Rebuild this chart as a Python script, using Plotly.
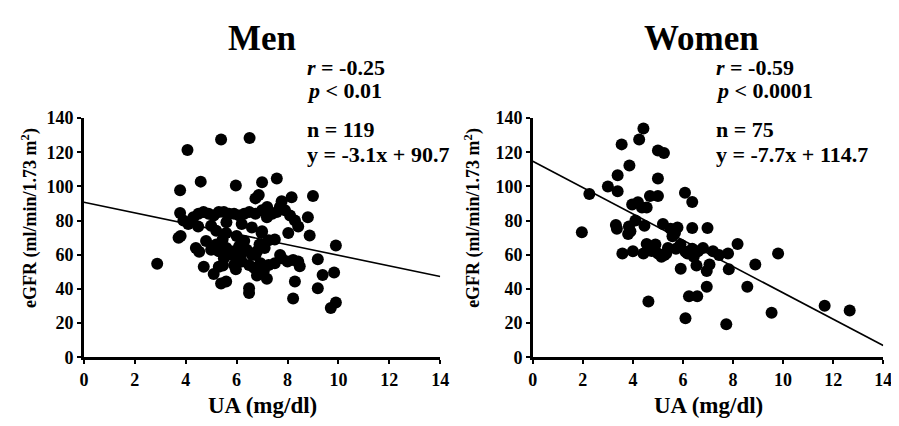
import plotly.graph_objects as go

# ---------------- data ----------------
men_ua = [4.07, 5.39, 6.51, 4.59, 5.97, 7.0, 7.58, 3.78, 6.74, 6.87, 7.77, 8.16, 9.0,
          3.78, 3.91, 4.3, 4.5, 4.7, 4.9, 5.1, 5.3, 5.5, 5.7, 5.9, 6.1, 6.3, 6.5, 6.74, 7.0,
          7.19, 7.4, 7.58, 7.9, 8.1, 8.29, 8.8, 7.7, 7.2,
          4.49, 4.1, 5.0, 5.6, 6.2, 6.6, 5.2, 8.42, 8.03, 7.0, 8.87, 6.98, 5.59, 5.45, 3.72,
          3.8, 7.26, 7.5, 6.0, 6.3, 4.8,
          4.53, 9.9, 5.0, 5.3, 5.6, 5.9, 6.1, 6.4, 6.6, 6.8, 7.1, 6.74, 7.71, 7.77, 5.8, 6.2,
          5.2, 6.9, 4.4,
          2.88, 4.71, 5.3, 5.46, 5.9, 5.97, 6.49, 6.68, 6.94, 7.07, 7.26, 8.22, 8.42, 8.48,
          9.19, 8.0, 7.5, 6.2, 5.5, 6.0,
          5.1, 5.39, 5.59, 6.49, 6.49, 6.8, 7.19, 8.29, 8.22, 9.38, 9.19, 9.83, 9.7, 9.9]
men_egfr = [121.3, 127.4, 128.3, 102.8, 100.6, 102.4, 104.6, 97.8, 93.0, 95.0, 91.3, 93.7, 94.4,
            84.4, 80.0, 82.0, 84.0, 85.0, 84.0, 83.0, 85.0, 85.0, 84.0, 84.0, 83.0, 84.0, 85.0, 84.0, 86.0,
            82.0, 84.0, 85.0, 86.0, 83.0, 80.0, 82.0, 88.0, 88.0,
            76.5, 78.0, 77.0, 79.0, 78.0, 76.0, 74.0, 76.5, 72.8, 73.7, 71.3, 72.8, 72.8, 69.0, 70.0,
            71.0, 68.5, 69.0, 71.0, 68.0, 68.0,
            61.7, 65.4, 63.0, 62.0, 64.0, 62.0, 65.0, 63.0, 60.0, 62.0, 64.0, 59.8, 59.8, 58.0, 60.0, 61.0,
            66.0, 66.0, 64.0,
            54.8, 53.0, 53.0, 53.7, 54.0, 51.5, 54.0, 52.4, 55.0, 50.5, 54.0, 57.0, 56.0, 53.3,
            57.4, 56.0, 55.0, 56.0, 58.0, 57.0,
            48.7, 43.2, 44.4, 40.4, 37.6, 47.8, 46.0, 44.4, 34.4, 48.1, 40.4, 49.6, 28.9, 32.0]

women_ua = [1.96, 2.26, 3.0, 3.39, 3.55, 3.86, 4.25, 4.42, 5.0, 5.24, 3.39, 5.0, 4.68, 5.0,
            3.97, 4.2, 4.36, 4.55, 6.08, 6.37, 3.32, 3.36, 3.84, 3.9, 3.81, 4.46, 5.5, 5.78,
            5.58, 5.68, 6.37, 6.98, 3.58, 4.42, 4.75, 5.0, 5.26, 5.72, 6.1, 6.37, 6.43, 4.55,
            7.44, 8.18, 7.8, 9.8, 8.89, 4.62, 5.91, 6.54, 6.1, 6.24, 6.57, 6.95, 6.95, 7.06,
            7.83, 7.73, 8.57, 9.54, 11.66, 12.66, 5.14, 5.33, 6.18, 6.43,
            4.9, 5.4, 6.6, 4.0, 5.9, 7.2, 4.1, 5.2, 6.8]
women_egfr = [73.2, 95.5, 100.0, 106.5, 124.6, 112.2, 127.4, 133.9, 121.0, 119.6, 97.2, 104.6, 94.4, 94.4,
              89.4, 90.7, 87.6, 87.6, 96.3, 90.9, 77.4, 75.2, 76.5, 73.7, 72.2, 77.0, 75.2, 75.9,
              70.9, 72.8, 75.6, 75.6, 60.7, 60.7, 62.2, 60.7, 59.8, 63.5, 61.7, 63.5, 59.8, 66.3,
              59.8, 66.3, 60.7, 60.7, 54.3, 32.6, 51.8, 53.7, 22.8, 35.7, 35.7, 41.3, 50.5, 54.3,
              51.5, 19.4, 41.3, 26.1, 30.2, 27.4, 58.9, 60.7, 60.7, 58.9,
              66.0, 64.0, 62.0, 62.0, 66.0, 62.0, 80.0, 78.0, 64.0]

panel_titles = ["Men", "Women"]
fit_slope = [-3.1, -7.7]
fit_intercept = [90.7, 114.7]
stat_r = ["-0.25", "-0.59"]
stat_p = ["0.01", "0.0001"]
stat_n = ["119", "75"]
x_ticks = [0, 2, 4, 6, 8, 10, 12, 14]
y_ticks = [0, 20, 40, 60, 80, 100, 120, 140]
x_range = [0, 14]
y_range = [0, 140]
x_title = "UA (mg/dl)"
y_title = "eGFR (ml/min/1.73 m<sup>2</sup>)"

# ---------------- figure ----------------
W, H = 899, 426
FONT = "Liberation Serif, Times New Roman, serif"

fig = go.Figure()

datasets = [(men_ua, men_egfr), (women_ua, women_egfr)]
for i, (xs, ys) in enumerate(datasets):
    xa = "x" if i == 0 else "x2"
    ya = "y" if i == 0 else "y2"
    fig.add_trace(go.Scatter(x=xs, y=ys, mode="markers", xaxis=xa, yaxis=ya,
                             marker=dict(size=12, color="black"), showlegend=False,
                             cliponaxis=False))
    fx = list(x_range)
    fy = [fit_slope[i] * v + fit_intercept[i] for v in fx]
    fig.add_trace(go.Scatter(x=fx, y=fy, mode="lines", xaxis=xa, yaxis=ya,
                             line=dict(color="black", width=1.6), showlegend=False))


def px_x(p):
    return p / W


def px_y(p):
    return 1 - p / H


x_domains = [[px_x(72), px_x(434)], [px_x(528), px_x(884)]]
y_domain = [px_y(356), px_y(105)]

axis_common = dict(showline=True, linecolor="black", linewidth=2.5, ticks="outside",
                   ticklen=4, tickwidth=2, tickcolor="black", showgrid=False, zeroline=False,
                   tickfont=dict(family=FONT, size=18, color="black", weight="bold"))

fig.update_layout(
    width=W, height=H, margin=dict(l=0, r=0, t=0, b=0),
    paper_bgcolor="white", plot_bgcolor="white",
    xaxis=dict(domain=x_domains[0], range=x_range, tickvals=x_ticks, anchor="y", **axis_common),
    yaxis=dict(domain=y_domain, range=y_range, tickvals=y_ticks, anchor="x", **axis_common),
    xaxis2=dict(domain=x_domains[1], range=x_range, tickvals=x_ticks, anchor="y2", **axis_common),
    yaxis2=dict(domain=y_domain, range=y_range, tickvals=y_ticks, anchor="x2", **axis_common),
)

title_cx = [253, 699]
stat_left = [297, 712]
ytitle_x = [17, 467]
xtitle_cx = [253, 706]

ann = []
for i in range(2):
    ann.append(dict(x=px_x(title_cx[i]), y=px_y(21), xref="paper", yref="paper",
                    text="<b>%s</b>" % panel_titles[i], showarrow=False,
                    xanchor="center", yanchor="middle",
                    font=dict(family=FONT, size=35, color="black")))
    rows = ["<b><i>r</i> = %s</b>" % stat_r[i],
            "<b><i>p</i> &lt; %s</b>" % stat_p[i],
            "<b>n = %s</b>" % stat_n[i],
            "<b>y = %.1fx + %.1f</b>" % (fit_slope[i], fit_intercept[i])]
    row_y = [52, 76, 117, 143]
    for t, ry in zip(rows, row_y):
        ann.append(dict(x=px_x(stat_left[i]), y=px_y(ry), xref="paper", yref="paper",
                        text=t, showarrow=False, xanchor="left", yanchor="middle",
                        font=dict(family=FONT, size=22, color="black")))
    ann.append(dict(x=px_x(ytitle_x[i]), y=px_y(210), xref="paper", yref="paper",
                    text="<b>%s</b>" % y_title, showarrow=False, textangle=-90,
                    xanchor="center", yanchor="middle",
                    font=dict(family=FONT, size=18, color="black")))
    ann.append(dict(x=px_x(xtitle_cx[i]), y=px_y(407), xref="paper", yref="paper",
                    text="<b>%s</b>" % x_title, showarrow=False,
                    xanchor="center", yanchor="middle",
                    font=dict(family=FONT, size=23, color="black")))

fig.update_layout(annotations=ann)

fig.write_html("out.html")
